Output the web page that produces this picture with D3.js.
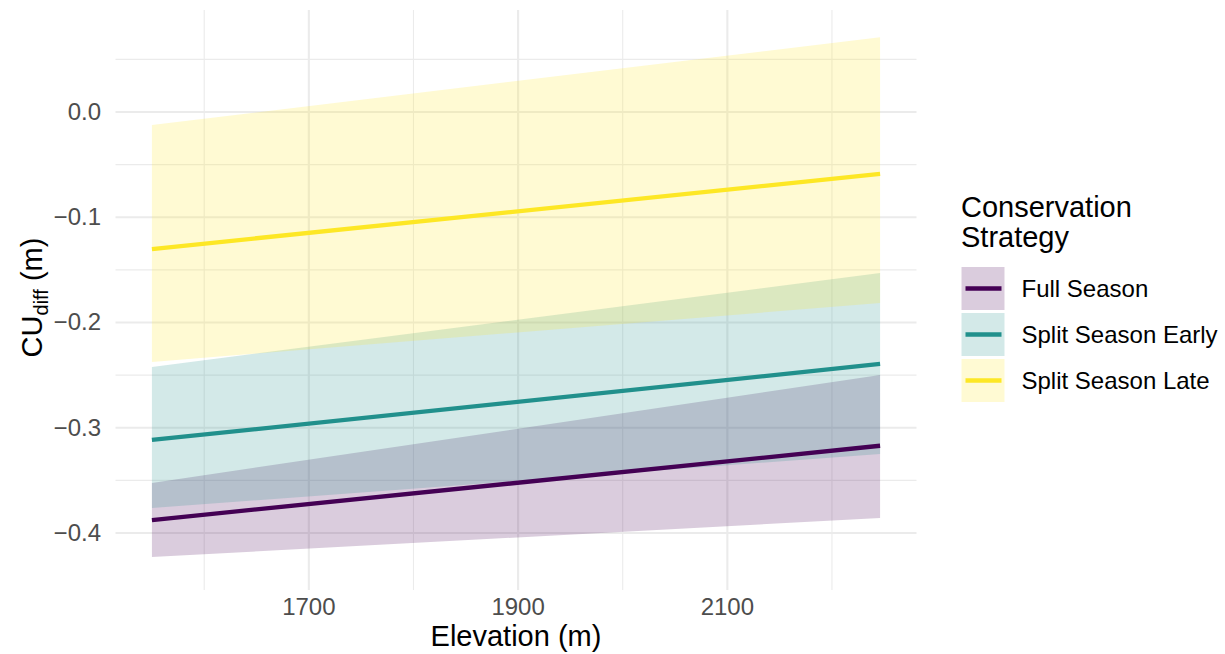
<!DOCTYPE html>
<html>
<head>
<meta charset="utf-8">
<script src="https://cdn.jsdelivr.net/npm/d3@7"></script>
<style>
  body { margin: 0; background: #fff; }
  svg { font-family: "Liberation Sans", Arial, sans-serif; }
</style>
</head>
<body>
<svg id="chart" width="1225" height="654"></svg>
<script>
// data: each fit is a straight line from the first to the last elevation
var strategies = ["Full Season", "Split Season Early", "Split Season Late"];
var colors = ["#440154", "#21908C", "#FDE725"];
var elevation = [1550, 2246];
var fitValues = [[-0.3877, -0.3171], [-0.3116, -0.2394], [-0.1302, -0.0589]];
var lowerValues = [[-0.4228, -0.3857], [-0.3762, -0.3249], [-0.2375, -0.1815]];
var upperValues = [[-0.3525, -0.2499], [-0.2423, -0.1530], [-0.0124, 0.0710]];
var xTicks = [1700, 1900, 2100];
var xMinor = [1600, 1800, 2000, 2200];
var yTicks = [0.0, -0.1, -0.2, -0.3, -0.4];
var yMinor = [0.05, -0.05, -0.15, -0.25, -0.35];

var svg = d3.select("#chart");
var pLeft = 115.5, pRight = 916.5, pTop = 12, pBottom = 583;

var x = d3.scaleLinear()
  .domain([1515.2, 2280.8])
  .range([pLeft, pRight]);

var y = d3.scaleLinear()
  .domain([-0.4475, 0.0950])
  .range([pBottom, pTop]);

var grid = svg.append("g");

// minor grid
xMinor.forEach(function(d) {
  grid.append("line").attr("x1", x(d)).attr("x2", x(d)).attr("y1", pTop - 2).attr("y2", pBottom + 7)
    .attr("stroke", "#ebebeb").attr("stroke-width", 1.1);
});
yMinor.forEach(function(d) {
  grid.append("line").attr("x1", pLeft).attr("x2", pRight).attr("y1", y(d)).attr("y2", y(d))
    .attr("stroke", "#ebebeb").attr("stroke-width", 1.1);
});
// major grid
xTicks.forEach(function(d) {
  grid.append("line").attr("x1", x(d)).attr("x2", x(d)).attr("y1", pTop - 2).attr("y2", pBottom + 7)
    .attr("stroke", "#ebebeb").attr("stroke-width", 2.1);
});
yTicks.forEach(function(d) {
  grid.append("line").attr("x1", pLeft).attr("x2", pRight).attr("y1", y(d)).attr("y2", y(d))
    .attr("stroke", "#ebebeb").attr("stroke-width", 2.1);
});

var area = d3.area()
  .x(function(d) { return x(d.e); })
  .y0(function(d) { return y(d.lo); })
  .y1(function(d) { return y(d.hi); });

var line = d3.line()
  .x(function(d) { return x(d.e); })
  .y(function(d) { return y(d.v); });

var series = strategies.map(function(s, i) {
  return {
    name: s,
    color: colors[i],
    points: elevation.map(function(e, j) {
      return { e: e, v: fitValues[i][j], lo: lowerValues[i][j], hi: upperValues[i][j] };
    })
  };
});

svg.append("g").selectAll("path")
  .data(series)
  .enter()
  .append("path")
  .attr("d", function(d) { return area(d.points); })
  .attr("fill", function(d) { return d.color; })
  .attr("fill-opacity", 0.2);

svg.append("g").selectAll("path")
  .data(series)
  .enter()
  .append("path")
  .attr("d", function(d) { return line(d.points); })
  .attr("fill", "none")
  .attr("stroke", function(d) { return d.color; })
  .attr("stroke-width", 4.3);

// axis labels
function fmt(d) {
  return d3.format(".1f")(d).replace("-", "\u2212");
}

svg.append("g").selectAll("text")
  .data(yTicks)
  .enter()
  .append("text")
  .attr("x", 101)
  .attr("y", function(d) { return y(d) + 8; })
  .attr("text-anchor", "end")
  .attr("font-size", 24)
  .attr("fill", "#4d4d4d")
  .text(fmt);

svg.append("g").selectAll("text")
  .data(xTicks)
  .enter()
  .append("text")
  .attr("x", function(d) { return x(d); })
  .attr("y", 614.5)
  .attr("text-anchor", "middle")
  .attr("font-size", 24)
  .attr("fill", "#4d4d4d")
  .text(function(d) { return d; });

svg.append("text")
  .attr("x", (pLeft + pRight) / 2)
  .attr("y", 646)
  .attr("text-anchor", "middle")
  .attr("font-size", 29)
  .attr("fill", "#000")
  .text("Elevation (m)");

var yTitle = svg.append("text")
  .attr("transform", "translate(42," + ((pTop + pBottom) / 2) + ") rotate(-90)")
  .attr("text-anchor", "middle")
  .attr("font-size", 29)
  .attr("fill", "#000");
yTitle.append("tspan").text("CU");
yTitle.append("tspan").attr("font-size", 20).attr("dy", 6).text("diff");
yTitle.append("tspan").attr("dy", -6).text(" (m)");

// legend
var legend = svg.append("g");
legend.append("text").attr("x", 961).attr("y", 217).attr("font-size", 29).text("Conservation");
legend.append("text").attr("x", 961).attr("y", 247).attr("font-size", 29).text("Strategy");

var keys = legend.selectAll("g.key")
  .data(series)
  .enter()
  .append("g")
  .attr("class", "key")
  .attr("transform", function(d, i) { return "translate(961.5," + (267 + i * 46) + ")"; });

keys.append("rect")
  .attr("width", 43).attr("height", 43)
  .attr("fill", function(d) { return d.color; })
  .attr("fill-opacity", 0.2);

keys.append("line")
  .attr("x1", 4).attr("x2", 40).attr("y1", 21.5).attr("y2", 21.5)
  .attr("stroke", function(d) { return d.color; })
  .attr("stroke-width", 4.3);

keys.append("text")
  .attr("x", 60)
  .attr("y", 30)
  .attr("font-size", 24)
  .attr("fill", "#000")
  .text(function(d) { return d.name; });
</script>
</body>
</html>
